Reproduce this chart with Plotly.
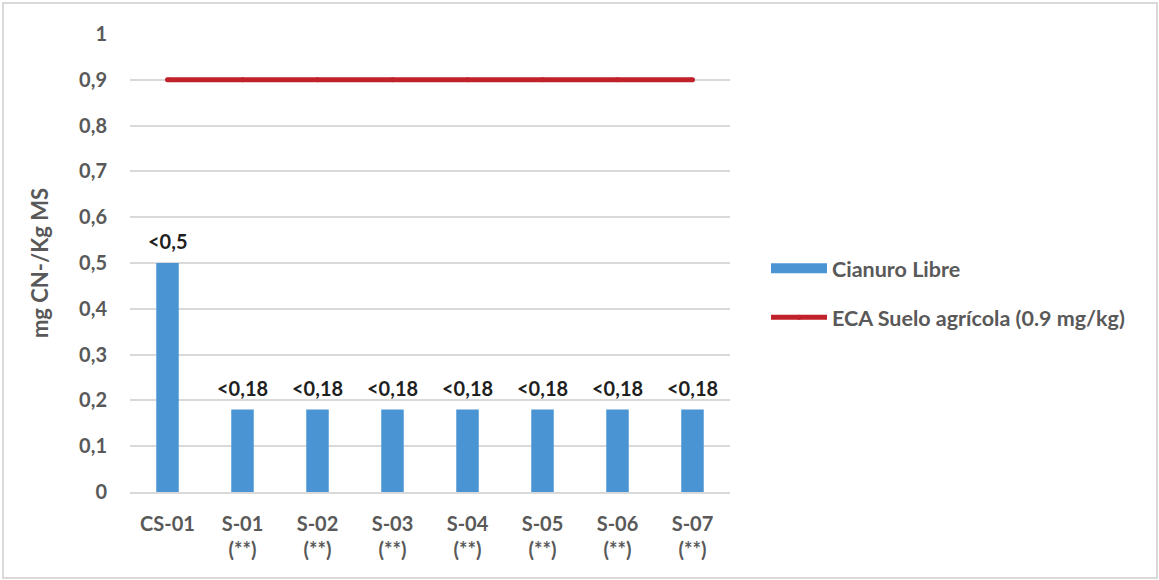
import plotly.graph_objects as go

categories = ["CS-01", "S-01<br>(**)", "S-02<br>(**)", "S-03<br>(**)", "S-04<br>(**)",
              "S-05<br>(**)", "S-06<br>(**)", "S-07<br>(**)"]
cianuro_libre = [0.5, 0.18, 0.18, 0.18, 0.18, 0.18, 0.18, 0.18]
bar_labels = ["<0,5", "<0,18", "<0,18", "<0,18", "<0,18", "<0,18", "<0,18", "<0,18"]
eca_limit = [0.9] * len(categories)
y_ticks = [0, 0.1, 0.2, 0.3, 0.4, 0.5, 0.6, 0.7, 0.8, 0.9, 1]
y_tick_text = ["0", "0,1", "0,2", "0,3", "0,4", "0,5", "0,6", "0,7", "0,8", "0,9", "1"]

FONT = "Lato, Open Sans, sans-serif"
GRAY = "#595959"
BLUE = "#4a94d3"
RED = "#c0212b"

fig = go.Figure()
fig.add_trace(go.Bar(
    x=categories, y=cianuro_libre, name="Cianuro Libre",
    marker=dict(color=BLUE, line=dict(width=0)),
    width=0.3, showlegend=False,
))
# legend key for the bars, drawn as a wide flat swatch
fig.add_trace(go.Scatter(
    x=[None], y=[None], mode="lines", name="Cianuro Libre",
    line=dict(color=BLUE, width=10), legendgroup="a",
))
# limit line; small round markers give it rounded ends
fig.add_trace(go.Scatter(
    x=categories, y=eca_limit, mode="lines+markers", name="ECA Suelo agrícola (0.9 mg/kg)",
    line=dict(color=RED, width=5), marker=dict(color=RED, size=5, symbol="circle"),
    legendgroup="b",
))

# value labels above each bar
for cat, val, lab in zip(categories, cianuro_libre, bar_labels):
    fig.add_annotation(x=cat, y=val, text=lab, showarrow=False,
                       yanchor="bottom", yshift=8,
                       font=dict(family=FONT, size=20, color="#1f1f1f", weight="bold"))

fig.update_layout(
    width=1159, height=580,
    margin=dict(l=130, r=429, t=34, b=88),
    paper_bgcolor="white", plot_bgcolor="white",
    font=dict(family=FONT, size=20, color=GRAY, weight="bold"),
    showlegend=True,
    legend=dict(x=1.06, y=0.435, xanchor="left", yanchor="middle",
                font=dict(family=FONT, size=21.5, color=GRAY, weight="bold"),
                tracegroupgap=18, itemwidth=56, bgcolor="rgba(0,0,0,0)"),
    xaxis=dict(showgrid=False, showline=True, linecolor="#d9d9d9", linewidth=1.5,
               ticks="", ticklabelstandoff=13,
               tickfont=dict(family=FONT, size=20, color=GRAY, weight="bold")),
    yaxis=dict(range=[0, 1], tickvals=y_ticks, ticktext=y_tick_text,
               showgrid=True, gridcolor="#d9d9d9", gridwidth=1.5, zeroline=False,
               ticks="", ticklabelstandoff=22,
               tickfont=dict(family=FONT, size=20, color=GRAY, weight="bold"),
               title=dict(text="mg CN-/Kg MS", standoff=24,
                          font=dict(family=FONT, size=22, color=GRAY, weight="bold"))),
    shapes=[dict(type="rect", xref="paper", yref="paper",
                 x0=(3 - 130) / 600, x1=(1157 - 130) / 600,
                 y0=(492 - 578) / 458, y1=(492 - 3) / 458,
                 line=dict(color="#d9d9d9", width=2), fillcolor="rgba(0,0,0,0)",
                 layer="below")],
)

fig.write_html("out.html")
